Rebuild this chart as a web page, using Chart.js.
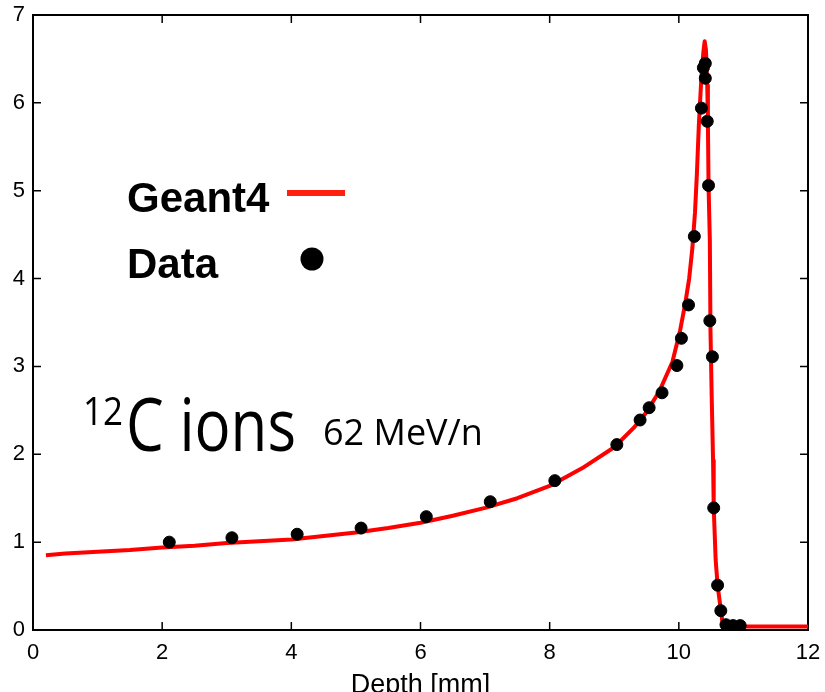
<!DOCTYPE html>
<html><head><meta charset="utf-8">
<script src="https://cdn.jsdelivr.net/npm/chart.js@4.4.1/dist/chart.umd.min.js"></script>
<style>html,body{margin:0;padding:0;background:#fff}#wrap{width:825px;height:692px}</style>
</head><body><div id="wrap"><canvas id="c" width="825" height="692"></canvas></div>
<script>
// Geant4 simulation curve
const g4Depth = [0.2,0.5,1.0,1.5,2.0,2.5,3.0,3.5,4.0,4.5,5.0,5.5,6.0,6.5,7.0,7.5,8.0,8.5,9.0,9.3,9.5,9.7,9.9,10.02,10.1,10.16,10.21,10.25,10.28,10.31,10.35,10.38,10.40,10.42,10.44,10.45,10.46,10.48,10.49,10.51,10.53,10.54,10.57,10.60,10.65,10.68,10.72,12.0];
const g4Dose  = [0.85,0.87,0.89,0.91,0.94,0.96,0.99,1.01,1.03,1.07,1.11,1.16,1.22,1.30,1.39,1.50,1.64,1.84,2.08,2.30,2.48,2.72,3.05,3.41,3.72,4.00,4.35,4.75,5.20,5.75,6.30,6.58,6.70,6.60,6.20,5.80,5.06,4.44,3.41,2.62,1.93,1.40,0.80,0.51,0.23,0.06,0.04,0.04];
// Measured data
const dataDepth = [2.11,3.08,4.09,5.08,6.09,7.08,8.08,9.04,9.40,9.54,9.74,9.97,10.04,10.15,10.24,10.35,10.38,10.41,10.41,10.44,10.46,10.48,10.52,10.54,10.60,10.65,10.73,10.84,10.95];
const dataDose  = [1.00,1.05,1.09,1.16,1.29,1.46,1.70,2.11,2.39,2.53,2.70,3.01,3.32,3.70,4.48,5.94,6.40,6.45,6.28,5.79,5.06,3.52,3.11,1.39,0.51,0.22,0.06,0.05,0.05];
const xTicks = [0,2,4,6,8,10,12];
const yTicks = [0,1,2,3,4,5,6,7];
const legendLabels = ['Geant4','Data'];
const xTitle = 'Depth [mm]';

const g4Points = g4Depth.map((x,i)=>({x, y:g4Dose[i]}));
const dataPoints = dataDepth.map((x,i)=>({x, y:dataDose[i]}));

const innerTicks = {
  id:'innerTicks',
  afterDatasetsDraw(chart){
    const {ctx, chartArea:a, scales} = chart;
    const L = 8;
    ctx.save();
    ctx.strokeStyle='#000'; ctx.lineWidth=1.5;
    ctx.beginPath();
    xTicks.forEach(v=>{
      if (v===xTicks[0]||v===xTicks[xTicks.length-1]) return;
      const px = scales.x.getPixelForValue(v);
      ctx.moveTo(px,a.bottom); ctx.lineTo(px,a.bottom-L);
      ctx.moveTo(px,a.top); ctx.lineTo(px,a.top+L);
    });
    yTicks.forEach(v=>{
      if (v===yTicks[0]) return;
      const py = scales.y.getPixelForValue(v);
      ctx.moveTo(a.left,py); ctx.lineTo(a.left+L,py);
      if (v!==yTicks[yTicks.length-1]) { ctx.moveTo(a.right,py); ctx.lineTo(a.right-L,py); }
    });
    ctx.stroke();
    ctx.restore();
  },
  afterDraw(chart){
    const ctx = chart.ctx;
    ctx.save();
    ctx.fillStyle='#000';
    ctx.textBaseline='alphabetic';
    ctx.textAlign='left';
    // legend
    ctx.font='bold 42px "Liberation Sans", Arial, sans-serif';
    ctx.fillText(legendLabels[0],127,212,145);
    ctx.fillText(legendLabels[1],127,278,92);
    ctx.strokeStyle='#ff2010'; ctx.lineWidth=6;
    ctx.beginPath(); ctx.moveTo(287,193); ctx.lineTo(345,193); ctx.stroke();
    ctx.beginPath(); ctx.arc(312,259,11.5,0,Math.PI*2); ctx.fill();
    // annotation
    ctx.font='39px "Open Sans", sans-serif';
    ctx.fillText('12',83,425,40);
    ctx.font='74px "Open Sans", sans-serif';
    ctx.fillText('C ions',126,451,170);
    ctx.font='36px "Open Sans", sans-serif';
    ctx.fillText('62 MeV/n',323,445,174);
    ctx.restore();
  }
};

const noPad = s => { s.paddingLeft=0; s.paddingRight=0; s.paddingTop=0; s.paddingBottom=0; };

new Chart(document.getElementById('c'),{
  data:{datasets:[
    {type:'line', label:'Geant4', data:g4Points, borderColor:'#ff0000', borderWidth:4, pointRadius:0, tension:0, fill:false, order:2, borderJoinStyle:'round'},
    {type:'scatter', label:'Data', data:dataPoints, backgroundColor:'#000', borderColor:'#000', pointRadius:6, pointHoverRadius:6, order:1}
  ]},
  options:{
    responsive:false, animation:false, devicePixelRatio:1,
    layout:{padding:0},
    plugins:{legend:{display:false}, tooltip:{enabled:false}},
    scales:{
      x:{type:'linear', position:'bottom', min:0, max:12,
         afterBuildTicks:s=>{s.ticks=xTicks.map(v=>({value:v}));},
         afterFit:s=>{s.height=62; noPad(s);},
         grid:{display:false, drawTicks:false},
         border:{display:true, color:'#000', width:2},
         ticks:{padding:10, color:'#000', font:{family:'"Liberation Sans", Arial, sans-serif', size:22}, maxRotation:0, autoSkip:false},
         title:{display:true, text:xTitle, color:'#000', font:{family:'"Liberation Sans", Arial, sans-serif', size:27, lineHeight:0.5}, padding:0}},
      x2:{type:'linear', position:'top', min:0, max:12,
         afterFit:s=>{s.height=15; noPad(s);},
         grid:{display:false, drawTicks:false},
         border:{display:true, color:'#000', width:2},
         ticks:{display:false}},
      y:{type:'linear', position:'left', min:0, max:7,
         afterBuildTicks:s=>{s.ticks=yTicks.map(v=>({value:v}));},
         afterFit:s=>{s.width=33; noPad(s);},
         grid:{display:false, drawTicks:false},
         border:{display:true, color:'#000', width:2},
         ticks:{padding:8, color:'#000', font:{family:'"Liberation Sans", Arial, sans-serif', size:22}, autoSkip:false}},
      y2:{type:'linear', position:'right', min:0, max:7,
         afterFit:s=>{s.width=17; noPad(s);},
         grid:{display:false, drawTicks:false},
         border:{display:true, color:'#000', width:2},
         ticks:{display:false}}
    }
  },
  plugins:[innerTicks]
});
</script></body></html>
